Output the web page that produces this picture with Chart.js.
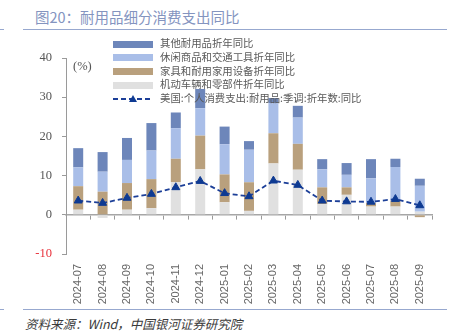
<!DOCTYPE html>
<html>
<head>
<meta charset="utf-8">
<script src="https://cdn.jsdelivr.net/npm/chart.js@4/dist/chart.umd.min.js"></script>
<style>
  html, body { margin: 0; padding: 0; background: #fff; }
  body { width: 456px; height: 334px; position: relative; overflow: hidden; font-family: "Noto Sans CJK SC", "Noto Sans", sans-serif; }
  .title { position: absolute; left: 35px; top: 6px; font-size: 14.5px; color: #8494bf; white-space: nowrap; }
  .rule { position: absolute; height: 1.6px; background: #97a8cf; }
  .footer { position: absolute; left: 25px; top: 314px; font-size: 12.5px; color: #3a3a3a; font-style: italic; white-space: nowrap; }
  #wrap { position: absolute; left: 0; top: 40px; width: 456px; height: 265px; }
  .unit { position: absolute; left: 73px; top: 59px; font-family: "Liberation Serif", serif; font-size: 12.5px; color: #555; }
  #legend { position: absolute; left: 113px; top: 37px; font-size: 10.4px; color: #595959; }
  .lg { position: relative; height: 13.8px; white-space: nowrap; }
  .lg .sw { position: absolute; left: 0; top: 3.5px; width: 40px; height: 7px; }
  .lg svg { position: absolute; left: 0; top: 0; }
  .lg .tx { position: absolute; left: 47px; top: -1px; line-height: 14px; }
</style>
</head>
<body>
<div class="title">图20：耐用品细分消费支出同比</div>
<div class="rule" style="left:23px; top:28.5px; width:424px;"></div>
<div class="rule" style="left:0; top:28.5px; width:4px;"></div>
<div id="wrap"><canvas id="c" width="456" height="265"></canvas></div>
<div class="unit">(%)</div>
<div id="legend"></div>
<div class="rule" style="left:23px; top:308.5px; width:424px;"></div>
<div class="rule" style="left:0; top:308.5px; width:4px;"></div>
<div class="footer">资料来源：Wind，中国银河证券研究院</div>
<script>
// Months on the category axis
const months = ['2024-07','2024-08','2024-09','2024-10','2024-11','2024-12','2025-01','2025-02','2025-03','2025-04','2025-05','2025-06','2025-07','2025-08','2025-09'];

// Year-on-year growth by durable goods segment (%)
const motorVehicles = [1.3, -0.8, 1.3, 1.7, 8.3, 11.6, 3.2, 1.0, 13.1, 11.5, 2.7, 5.1, 2.1, 2.1, 0.8];
const furnishings   = [6.0, 5.9, 6.8, 7.4, 6.0, 8.6, 7.1, 7.3, 7.7, 6.6, 4.3, 1.9, 0.9, 1.5, -0.6];
const recreational  = [4.8, 5.1, 5.9, 7.3, 7.8, 7.0, 7.7, 8.3, 7.7, 6.7, 4.6, 3.2, 6.3, 8.6, 6.6];
const otherDurables = [4.9, 5.0, 5.6, 7.0, 4.0, 4.9, 4.5, 2.2, 1.3, 3.0, 2.6, 3.0, 4.9, 2.1, 1.8];
const usDurablesPCE = [3.6, 3.0, 4.3, 5.3, 7.0, 8.6, 5.5, 4.7, 8.7, 7.6, 3.6, 3.4, 3.3, 4.0, 2.4];

// Y axis range and step
const yTicks = { min: -10, max: 40, step: 10 };

const seriesNames = {
  other: '其他耐用品折年同比',
  recreational: '休闲商品和交通工具折年同比',
  furnishings: '家具和耐用家用设备折年同比',
  motor: '机动车辆和零部件折年同比',
  us: '美国:个人消费支出:耐用品:季调:折年数:同比'
};

const colors = {
  other: '#6d86ba',
  recreational: '#a9bee8',
  furnishings: '#b9a07d',
  motor: '#e0e0e0',
  line: '#1c3f98',
  marker: '#0e3a92'
};

const barCommon = { type: 'bar', stack: 's', barPercentage: 0.41, categoryPercentage: 1, borderWidth: 0, order: 1 };

const datasets = [
  Object.assign({ label: seriesNames.motor, data: motorVehicles, backgroundColor: colors.motor }, barCommon),
  Object.assign({ label: seriesNames.furnishings, data: furnishings, backgroundColor: colors.furnishings }, barCommon),
  Object.assign({ label: seriesNames.recreational, data: recreational, backgroundColor: colors.recreational }, barCommon),
  Object.assign({ label: seriesNames.other, data: otherDurables, backgroundColor: colors.other }, barCommon),
  {
    type: 'line', label: seriesNames.us, data: usDurablesPCE, order: 0,
    borderColor: colors.line, borderWidth: 1.8, borderDash: [5, 3],
    pointStyle: 'triangle', pointRadius: 4.6, pointBackgroundColor: colors.marker,
    pointBorderColor: colors.marker, pointBorderWidth: 1, fill: false, tension: 0
  }
];

new Chart(document.getElementById('c'), {
  data: { labels: months, datasets },
  options: {
    responsive: false,
    animation: false,
    layout: { padding: { left: 0, right: 24, top: 18, bottom: 0 } },
    plugins: { legend: { display: false }, tooltip: { enabled: false } },
    scales: {
      x: {
        type: 'category', stacked: true, offset: true,
        grid: { display: false, drawTicks: false },
        border: { display: false },
        ticks: {
          minRotation: 90, maxRotation: 90, autoSkip: false, padding: 10,
          color: '#666', font: { family: 'Liberation Sans', size: 11 }
        },
        afterFit(scale) { scale.height = 51; }
      },
      x0: {
        type: 'category', position: { y: 0 }, offset: true,
        grid: { offset: true, drawOnChartArea: false, drawTicks: true, tickLength: 4, color: '#9a9a9a', lineWidth: 1 },
        border: { display: true, color: '#a6a6a6', width: 1.6 },
        ticks: { display: false }
      },
      y: {
        type: 'linear', stacked: true, min: yTicks.min, max: yTicks.max,
        grid: { drawOnChartArea: false, drawTicks: true, tickLength: 4, color: '#9a9a9a' },
        border: { display: true, color: '#9a9a9a', width: 1 },
        ticks: {
          stepSize: yTicks.step, padding: 10,
          color: (ctx) => (ctx.tick && ctx.tick.value < 0 ? '#e8303a' : '#555'),
          font: { family: 'Liberation Serif', size: 12.5 }
        },
        afterFit(scale) { scale.width = 66; }
      }
    }
  }
});

// Legend: listed from the top segment of the stack down, then the line series
const legend = document.getElementById('legend');
const legendItems = [
  { name: seriesNames.other, color: colors.other },
  { name: seriesNames.recreational, color: colors.recreational },
  { name: seriesNames.furnishings, color: colors.furnishings },
  { name: seriesNames.motor, color: colors.motor },
  { name: seriesNames.us, line: true }
];
legendItems.forEach((it) => {
  const row = document.createElement('div');
  row.className = 'lg';
  if (it.line) {
    row.innerHTML = '<svg width="40" height="14" viewBox="0 0 40 14">' +
      '<line x1="0" y1="7" x2="40" y2="7" stroke="' + colors.line + '" stroke-width="1.8" stroke-dasharray="5 3"/>' +
      '<polygon points="20,3 24,10 16,10" fill="' + colors.marker + '"/></svg>';
  } else {
    row.innerHTML = '<div class="sw" style="background:' + it.color + '"></div>';
  }
  const tx = document.createElement('div');
  tx.className = 'tx';
  tx.textContent = it.name;
  row.appendChild(tx);
  legend.appendChild(row);
});
</script>
</body>
</html>
